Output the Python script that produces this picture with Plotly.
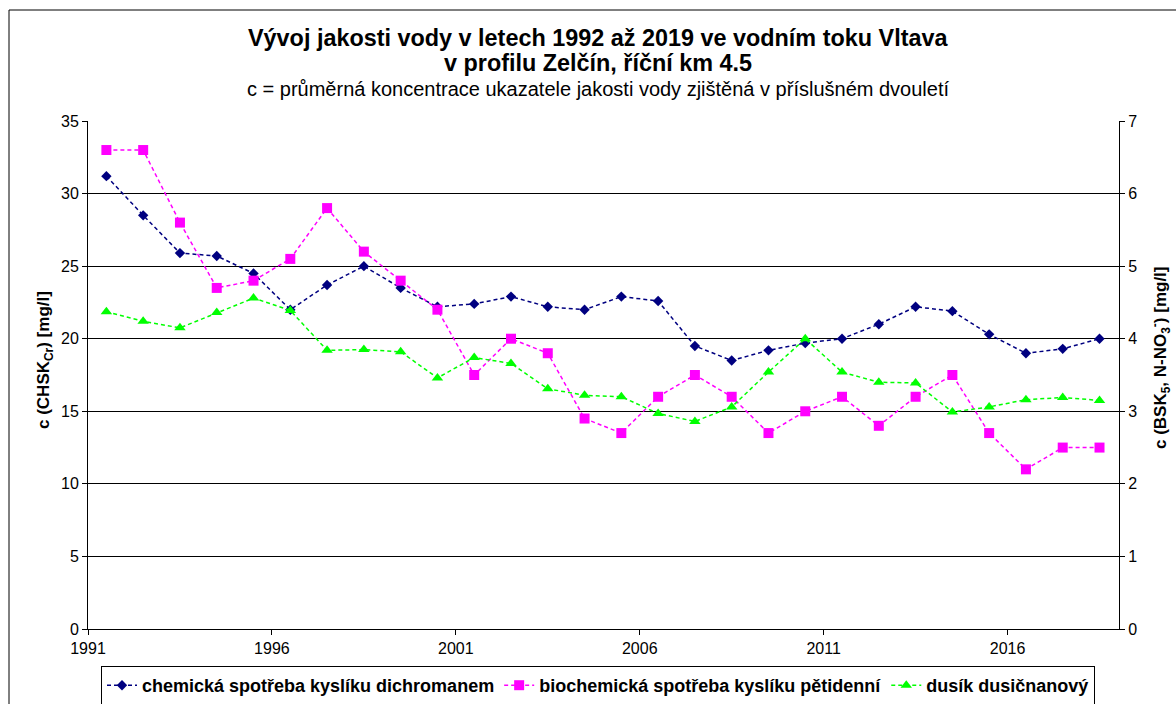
import plotly.graph_objects as go

years = list(range(1992, 2020))
chsk = [31.2, 28.5, 25.9, 25.7, 24.5, 22.0, 23.7, 25.0, 23.5, 22.2, 22.4, 22.9, 22.2, 22.0,
        22.9, 22.6, 19.5, 18.5, 19.2, 19.7, 20.0, 21.0, 22.2, 21.9, 20.3, 19.0, 19.3, 20.0]
bsk5 = [6.6, 6.6, 5.6, 4.7, 4.8, 5.1, 5.8, 5.2, 4.8, 4.4, 3.5, 4.0, 3.8, 2.9,
        2.7, 3.2, 3.5, 3.2, 2.7, 3.0, 3.2, 2.8, 3.2, 3.5, 2.7, 2.2, 2.5, 2.5]
nno3 = [4.37, 4.24, 4.15, 4.36, 4.56, 4.39, 3.84, 3.85, 3.82, 3.46, 3.74, 3.66, 3.31, 3.22,
        3.20, 2.97, 2.86, 3.06, 3.54, 4.00, 3.54, 3.40, 3.39, 2.99, 3.06, 3.16, 3.19, 3.15]
x_ticks = [1991, 1996, 2001, 2006, 2011, 2016]

xpos = [y - 0.5 for y in years]
FONT = "Liberation Sans, Arial, sans-serif"
DASH = "4px,3px"

fig = go.Figure()
fig.add_trace(go.Scatter(x=xpos, y=chsk, name="chemická spotřeba kyslíku dichromanem",
                         mode="lines+markers", yaxis="y",
                         line=dict(color="#000080", width=1.5, dash=DASH),
                         marker=dict(symbol="diamond", size=8, color="#000080")))
fig.add_trace(go.Scatter(x=xpos, y=bsk5, name="biochemická spotřeba kyslíku pětidenní",
                         mode="lines+markers", yaxis="y2",
                         line=dict(color="#FF00FF", width=1.5, dash=DASH),
                         marker=dict(symbol="square", size=10, color="#FF00FF")))
fig.add_trace(go.Scatter(x=xpos, y=nno3, name="dusík dusičnanový",
                         mode="lines+markers", yaxis="y2",
                         line=dict(color="#00FF00", width=1.5, dash=DASH),
                         marker=dict(symbol="triangle-up", size=10, color="#00FF00")))

W, H = 1176, 704
L, R, T, B = 88, 1119, 121, 629
pw, ph = R - L, B - T

def px(x):
    return (x - L) / pw

def py(y):
    return (B - y) / ph

fig.update_layout(
    width=W, height=H,
    margin=dict(l=L, r=W - R, t=T, b=H - B, pad=0, autoexpand=False),
    paper_bgcolor="white", plot_bgcolor="white",
    font=dict(family=FONT, size=14, color="black"),
    showlegend=True,
    legend=dict(orientation="h", xref="container", yref="container",
                x=598 / W, xanchor="center", y=1 - 666 / H, yanchor="top",
                bordercolor="black", borderwidth=1, bgcolor="white",
                font=dict(family=FONT, size=18, color="black", weight="bold"),
                itemwidth=30, tracegroupgap=0, traceorder="normal"),
    xaxis=dict(range=[1991, 2019.03], tickvals=x_ticks, ticktext=[str(v) for v in x_ticks],
               showgrid=False, zeroline=False, showline=True, linecolor="black", linewidth=1,
               ticks="outside", ticklen=5, tickcolor="black",
               tickfont=dict(family=FONT, size=16, color="black")),
    yaxis=dict(range=[0, 35], dtick=5, tick0=0, showgrid=True, gridcolor="black", gridwidth=1,
               zeroline=False, showline=True, linecolor="black", linewidth=1,
               ticks="outside", ticklen=5, tickcolor="black",
               tickfont=dict(family=FONT, size=16, color="black")),
    yaxis2=dict(range=[0, 7], dtick=1, tick0=0, overlaying="y", side="right",
                showgrid=False, zeroline=False, showline=True, linecolor="black", linewidth=1,
                ticks="outside", ticklen=5, tickcolor="black",
                tickfont=dict(family=FONT, size=16, color="black")),
)

anns = [
    dict(text="<b>Vývoj jakosti vody v letech 1992 až 2019 ve vodním toku Vltava</b>",
         x=px(598), y=py(38), size=23.4),
    dict(text="<b>v profilu Zelčín, říční km 4.5</b>", x=px(598), y=py(63), size=23.4),
    dict(text="c = průměrná koncentrace ukazatele jakosti vody zjištěná v příslušném dvouletí",
         x=px(598), y=py(89), size=20),
]
for a in anns:
    fig.add_annotation(text=a["text"], x=a["x"], y=a["y"], xref="paper", yref="paper",
                       xanchor="center", yanchor="middle", showarrow=False,
                       font=dict(family=FONT, size=a["size"], color="black"))

fig.add_annotation(text="<b>c (CHSK<sub>Cr</sub>) [mg/l]</b>", x=px(45), y=py(360),
                   xref="paper", yref="paper", xanchor="center", yanchor="middle",
                   textangle=-90, showarrow=False,
                   font=dict(family=FONT, size=17, color="black"))
fig.add_annotation(text="<b>c (BSK<sub>5</sub>, N-NO<sub>3</sub><sup>-</sup>) [mg/l]</b>",
                   x=px(1160), y=py(358), xref="paper", yref="paper",
                   xanchor="center", yanchor="middle", textangle=-90, showarrow=False,
                   font=dict(family=FONT, size=17, color="black"))

fig.add_shape(type="rect", xref="paper", yref="paper",
              x0=px(9), x1=px(1190), y0=py(720), y1=py(10),
              line=dict(color="black", width=1), fillcolor="rgba(0,0,0,0)", layer="below")

fig.write_html("out.html", config={"displayModeBar": False},
               post_script="document.body.style.margin='0';document.body.style.overflow='hidden';")
